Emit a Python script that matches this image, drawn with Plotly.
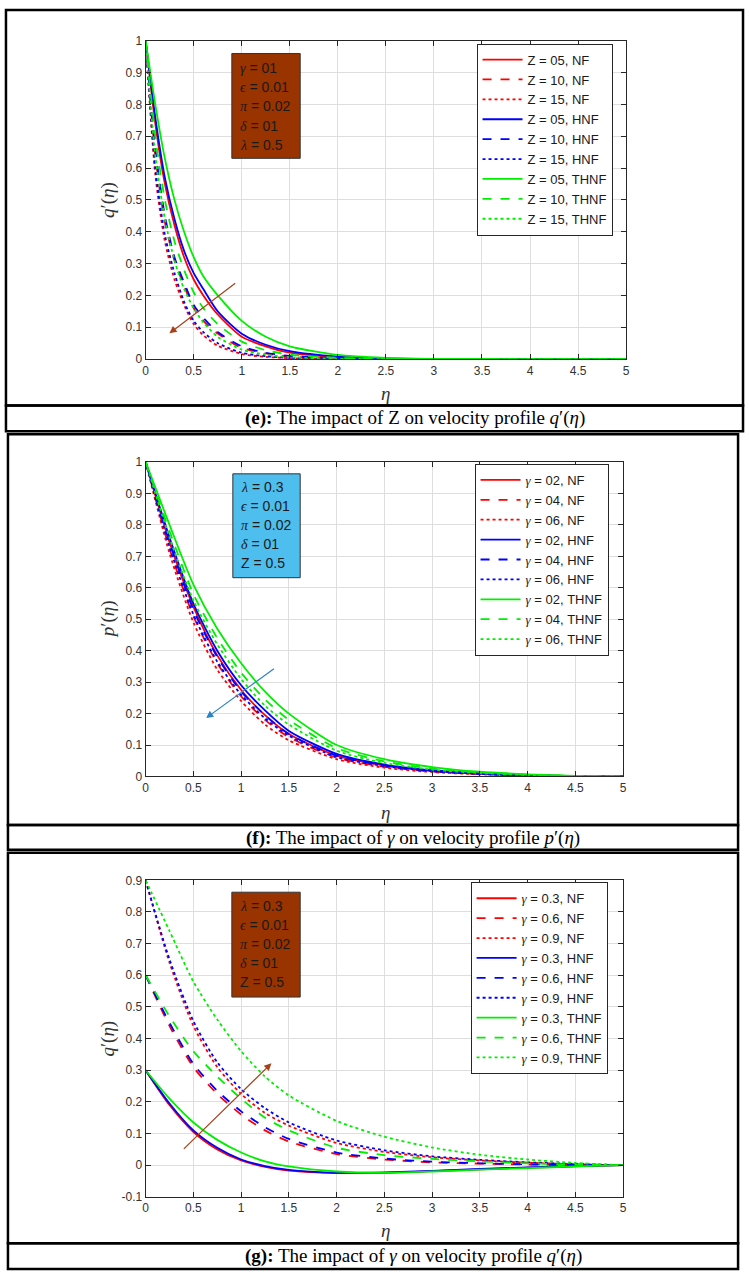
import plotly.graph_objects as go

# ---------------- data ----------------
# Panel (e): impact of Z on q'(eta)
ETA_E = [0, 0.1, 0.2, 0.3, 0.4, 0.5, 0.6, 0.75, 1.0, 1.25, 1.5, 2.0, 2.5, 3.0, 4.0, 5.0]
E_Z05_NF = [1, 0.74, 0.55, 0.42, 0.32, 0.25, 0.20, 0.14, 0.07, 0.04, 0.02, 0.006, 0.0015, 0, 0, 0]
E_Z10_NF = [1, 0.64, 0.43, 0.31, 0.23, 0.16, 0.12, 0.08, 0.035, 0.018, 0.008, 0.0015, 0, 0, 0, 0]
E_Z15_NF = [1, 0.58, 0.37, 0.25, 0.17, 0.11, 0.075, 0.042, 0.016, 0.007, 0.003, 0, 0, 0, 0, 0]
E_Z05_HNF = [1, 0.76, 0.57, 0.44, 0.34, 0.27, 0.22, 0.15, 0.08, 0.045, 0.025, 0.008, 0.002, 0.0005, 0, 0]
E_Z10_HNF = [1, 0.66, 0.45, 0.32, 0.24, 0.17, 0.13, 0.085, 0.04, 0.02, 0.01, 0.002, 0, 0, 0, 0]
E_Z15_HNF = [1, 0.60, 0.39, 0.27, 0.18, 0.12, 0.085, 0.05, 0.02, 0.009, 0.004, 0.0005, 0, 0, 0, 0]
E_Z05_THNF = [1, 0.80, 0.63, 0.50, 0.40, 0.32, 0.26, 0.20, 0.12, 0.07, 0.04, 0.013, 0.004, 0.001, 0, 0]
E_Z10_THNF = [1, 0.70, 0.50, 0.37, 0.28, 0.21, 0.16, 0.11, 0.055, 0.028, 0.014, 0.004, 0.001, 0, 0, 0]
E_Z15_THNF = [1, 0.64, 0.44, 0.31, 0.22, 0.16, 0.115, 0.07, 0.03, 0.014, 0.006, 0.001, 0, 0, 0, 0]
E_NAMES = ["Z = 05, NF", "Z = 10, NF", "Z = 15, NF",
           "Z = 05, HNF", "Z = 10, HNF", "Z = 15, HNF",
           "Z = 05, THNF", "Z = 10, THNF", "Z = 15, THNF"]

# Panel (f): impact of gamma on p'(eta)
ETA_F = [0, 0.25, 0.5, 0.75, 1.0, 1.25, 1.5, 2.0, 2.5, 3.0, 3.5, 4.0, 4.5, 5.0]
F_G02_NF = [1, 0.745, 0.54, 0.385, 0.275, 0.195, 0.135, 0.066, 0.035, 0.018, 0.009, 0.004, 0.001, 0]
F_G04_NF = [1, 0.725, 0.51, 0.36, 0.255, 0.18, 0.125, 0.06, 0.031, 0.016, 0.008, 0.003, 0.001, 0]
F_G06_NF = [1, 0.71, 0.49, 0.34, 0.24, 0.165, 0.115, 0.055, 0.028, 0.014, 0.007, 0.003, 0.001, 0]
F_G02_HNF = [1, 0.76, 0.55, 0.40, 0.29, 0.21, 0.145, 0.072, 0.038, 0.02, 0.01, 0.004, 0.001, 0]
F_G04_HNF = [1, 0.745, 0.53, 0.38, 0.27, 0.195, 0.135, 0.066, 0.035, 0.018, 0.009, 0.004, 0.001, 0]
F_G06_HNF = [1, 0.73, 0.515, 0.365, 0.26, 0.185, 0.13, 0.062, 0.033, 0.017, 0.008, 0.003, 0.001, 0]
F_G02_THNF = [1, 0.80, 0.61, 0.47, 0.36, 0.27, 0.20, 0.10, 0.055, 0.03, 0.015, 0.007, 0.002, 0]
F_G04_THNF = [1, 0.78, 0.58, 0.44, 0.33, 0.245, 0.18, 0.09, 0.048, 0.025, 0.013, 0.006, 0.002, 0]
F_G06_THNF = [1, 0.76, 0.56, 0.42, 0.31, 0.225, 0.165, 0.082, 0.043, 0.022, 0.011, 0.005, 0.0015, 0]
F_NAMES = ["γ = 02, NF", "γ = 04, NF", "γ = 06, NF",
           "γ = 02, HNF", "γ = 04, HNF", "γ = 06, HNF",
           "γ = 02, THNF", "γ = 04, THNF", "γ = 06, THNF"]

# Panel (g): impact of gamma on q'(eta)
ETA_G = [0, 0.25, 0.5, 0.75, 1.0, 1.25, 1.5, 2.0, 2.5, 3.0, 3.5, 4.0, 4.5, 5.0]
G_G03_NF = [0.3, 0.19, 0.105, 0.05, 0.015, -0.005, -0.017, -0.025, -0.024, -0.019, -0.013, -0.008, -0.004, 0]
G_G06_NF = [0.6, 0.44, 0.31, 0.225, 0.16, 0.11, 0.075, 0.035, 0.018, 0.009, 0.005, 0.002, 0.001, 0]
G_G09_NF = [0.9, 0.64, 0.44, 0.31, 0.225, 0.165, 0.125, 0.07, 0.042, 0.025, 0.015, 0.008, 0.003, 0]
G_G03_HNF = [0.3, 0.195, 0.11, 0.055, 0.018, -0.003, -0.015, -0.024, -0.023, -0.018, -0.012, -0.007, -0.003, 0]
G_G06_HNF = [0.6, 0.45, 0.32, 0.235, 0.17, 0.12, 0.083, 0.04, 0.021, 0.011, 0.006, 0.003, 0.001, 0]
G_G09_HNF = [0.9, 0.65, 0.455, 0.325, 0.24, 0.18, 0.135, 0.078, 0.047, 0.028, 0.017, 0.009, 0.004, 0]
G_G03_THNF = [0.3, 0.21, 0.135, 0.08, 0.04, 0.012, -0.004, -0.02, -0.024, -0.02, -0.014, -0.009, -0.004, 0]
G_G06_THNF = [0.6, 0.47, 0.36, 0.28, 0.21, 0.15, 0.11, 0.055, 0.032, 0.02, 0.012, 0.006, 0.002, 0]
G_G09_THNF = [0.9, 0.74, 0.58, 0.46, 0.36, 0.28, 0.22, 0.14, 0.09, 0.056, 0.033, 0.018, 0.007, 0]
G_NAMES = ["γ = 0.3, NF", "γ = 0.6, NF", "γ = 0.9, NF",
           "γ = 0.3, HNF", "γ = 0.6, HNF", "γ = 0.9, HNF",
           "γ = 0.3, THNF", "γ = 0.6, THNF", "γ = 0.9, THNF"]

G_YTICKS = [-0.1, 0, 0.1, 0.2, 0.3, 0.4, 0.5, 0.6, 0.7, 0.8, 0.9]
G_YTICKTEXT = ["-0.1", "0", "0.1", "0.2", "0.3", "0.4", "0.5", "0.6", "0.7", "0.8", "0.9"]

BOX_E = ["γ = 01", "ϵ = 0.01", "π = 0.02", "δ = 01", "λ = 0.5"]
BOX_F = ["λ = 0.3", "ϵ = 0.01", "π = 0.02", "δ = 01", "Z = 0.5"]
BOX_G = ["λ = 0.3", "ϵ = 0.01", "π = 0.02", "δ = 01", "Z = 0.5"]

CAPTIONS = ["<b>(e):</b> The impact of Z on velocity profile <i>q</i>′(<i>η</i>)",
            "<b>(f):</b> The impact of <i>γ</i> on velocity profile <i>p</i>′(<i>η</i>)",
            "<b>(g):</b> The impact of <i>γ</i> on velocity profile <i>q</i>′(<i>η</i>)"]
YTITLES = ["<i>q</i>′(<i>η</i>)", "<i>p</i>′(<i>η</i>)", "<i>q</i>′(<i>η</i>)"]

# ---------------- styling helpers ----------------
W, H = 749, 1280
def PX(p):
    return p / W
def PY(p):
    return 1 - p / H

COLORS = ["#ff0000"] * 3 + ["#0000ff"] * 3 + ["#00ee00"] * 3
DASHES = ["solid", "dash", "dot"] * 3
GREEK = "γϵπδλ"

def greekify(s):
    out = ""
    for ch in s:
        if ch in GREEK:
            out += "<span style=\"font-family:'Liberation Serif';font-style:italic\">" + ch + "</span>"
        else:
            out += ch
    return out

fig = go.Figure()

panels = [
    (ETA_E, [E_Z05_NF, E_Z10_NF, E_Z15_NF, E_Z05_HNF, E_Z10_HNF, E_Z15_HNF, E_Z05_THNF, E_Z10_THNF, E_Z15_THNF], E_NAMES, "x", "y", "legend"),
    (ETA_F, [F_G02_NF, F_G04_NF, F_G06_NF, F_G02_HNF, F_G04_HNF, F_G06_HNF, F_G02_THNF, F_G04_THNF, F_G06_THNF], F_NAMES, "x2", "y2", "legend2"),
    (ETA_G, [G_G03_NF, G_G06_NF, G_G09_NF, G_G03_HNF, G_G06_HNF, G_G09_HNF, G_G03_THNF, G_G06_THNF, G_G09_THNF], G_NAMES, "x3", "y3", "legend3"),
]

for eta, series, names, xa, ya, lg in panels:
    for i, (vals, nm) in enumerate(zip(series, names)):
        fig.add_trace(go.Scatter(
            x=eta, y=vals, name=greekify(nm), mode="lines",
            line=dict(color=COLORS[i], dash=DASHES[i], width=1.8, shape="spline", smoothing=0.7),
            xaxis=xa, yaxis=ya, legend=lg, showlegend=True))

# axes geometry (pixels)
AX = [  # left, right, top, bottom
    (144, 629, 34, 356),
    (144, 626, 460, 778),
    (144, 626, 883, 1203),
]
axis_common = dict(showline=True, linecolor="#262626", linewidth=1, mirror="allticks",
                   ticks="inside", ticklen=5, tickcolor="#262626",
                   showgrid=True, gridcolor="#dedede", gridwidth=1, zeroline=False,
                   tickfont=dict(family="Liberation Sans", size=12, color="#333333"))

layout_axes = {}
for k, (l, r, t, b) in enumerate(AX):
    sfx = "" if k == 0 else str(k + 1)
    layout_axes["xaxis" + sfx] = dict(domain=[PX(l), PX(r)], anchor="y" + sfx, range=[0, 5], dtick=0.5, **axis_common)
    yd = dict(domain=[PY(b), PY(t)], anchor="x" + sfx, **axis_common)
    if k == 2:
        yd.update(range=[-0.1, 0.9], tickvals=G_YTICKS, ticktext=G_YTICKTEXT)
    else:
        yd.update(range=[0, 1], dtick=0.1)
    layout_axes["yaxis" + sfx] = yd

legend_common = dict(xanchor="left", yanchor="top", bordercolor="#262626", borderwidth=1,
                     bgcolor="white", font=dict(family="Liberation Sans", size=13, color="#1a1a1a"),
                     tracegroupgap=0, itemwidth=40)
LEG_POS = [(478, 37), (476, 462), (472, 885)]

fig.update_layout(
    width=W, height=H, margin=dict(l=0, r=0, t=0, b=0),
    paper_bgcolor="white", plot_bgcolor="white", showlegend=True,
    legend=dict(x=PX(LEG_POS[0][0]), y=PY(LEG_POS[0][1]), **legend_common),
    legend2=dict(x=PX(LEG_POS[1][0]), y=PY(LEG_POS[1][1]), **legend_common),
    legend3=dict(x=PX(LEG_POS[2][0]), y=PY(LEG_POS[2][1]), **legend_common),
    **layout_axes,
)

shapes = []
annotations = []

# outer frames and caption frames
FRAMES = [  # x0, x1, top, mid, bottom
    (3, 747, 3, 403, 429),
    (5, 742, 432, 827, 852),
    (5, 742, 855, 1250, 1276),
]
for (x0, x1, t, m, b) in FRAMES:
    shapes.append(dict(type="rect", xref="paper", yref="paper", x0=PX(x0), x1=PX(x1), y0=PY(m), y1=PY(t),
                       line=dict(color="black", width=2.5)))
    shapes.append(dict(type="rect", xref="paper", yref="paper", x0=PX(x0), x1=PX(x1), y0=PY(b), y1=PY(m),
                       line=dict(color="black", width=2.5)))

CAP_POS = [(416, 416), (414, 840), (414, 1263)]
for txt, (cx, cy) in zip(CAPTIONS, CAP_POS):
    annotations.append(dict(text=txt, xref="paper", yref="paper", x=PX(cx), y=PY(cy), showarrow=False,
                            xanchor="center", yanchor="middle",
                            font=dict(family="Liberation Serif", size=19, color="black")))

# axis titles
XT_Y = [391, 814, 1237]
for k, (l, r, t, b) in enumerate(AX):
    annotations.append(dict(text="<i>η</i>", xref="paper", yref="paper", x=PX(386), y=PY(XT_Y[k]),
                            showarrow=False, xanchor="center", yanchor="middle",
                            font=dict(family="Liberation Serif", size=19, color="#333333")))
    annotations.append(dict(text=YTITLES[k], xref="paper", yref="paper", x=PX(106), y=PY((t + b) / 2),
                            showarrow=False, xanchor="center", yanchor="middle", textangle=-90,
                            font=dict(family="Liberation Serif", size=19, color="#333333")))

# parameter text boxes
BOXES = [  # x0, x1, top, bottom, color, first line center, lines
    (231, 300, 47, 153, "#993300", 62, BOX_E),
    (232, 300, 472, 577, "#4dbeee", 485, BOX_F),
    (231, 300, 895, 1001, "#993300", 909, BOX_G),
]
for (x0, x1, t, b, col, y0, lines) in BOXES:
    shapes.append(dict(type="rect", xref="paper", yref="paper", x0=PX(x0), x1=PX(x1), y0=PY(b), y1=PY(t),
                       fillcolor=col, line=dict(color="#333333", width=1)))
    for j, ln in enumerate(lines):
        annotations.append(dict(text=greekify(ln), xref="paper", yref="paper", x=PX(x0 + 6), y=PY(y0 + j * 19.3),
                                showarrow=False, xanchor="left", yanchor="middle",
                                font=dict(family="Liberation Sans", size=14, color="#1a1a1a")))

# trend arrows (data coordinates: head x, head y, tail x, tail y)
ARROWS = [
    ("x", "y", 0.247, 0.081, 0.948, 0.242, "#a5401a"),
    ("x2", "y2", 0.633, 0.186, 1.359, 0.346, "#2b83c6"),
    ("x3", "y3", 1.317, 0.322, 0.384, 0.047, "#a5401a"),
]
for xa, ya, hx, hy, tx, ty, col in ARROWS:
    annotations.append(dict(text="", x=hx, y=hy, ax=tx, ay=ty, xref=xa, yref=ya, axref=xa, ayref=ya,
                            showarrow=True, arrowhead=2, arrowsize=1.2, arrowwidth=1.2, arrowcolor=col))

fig.update_layout(shapes=shapes, annotations=annotations)

fig.write_html("out.html", config={"displayModeBar": False},
               post_script="document.body.style.margin='0';")
